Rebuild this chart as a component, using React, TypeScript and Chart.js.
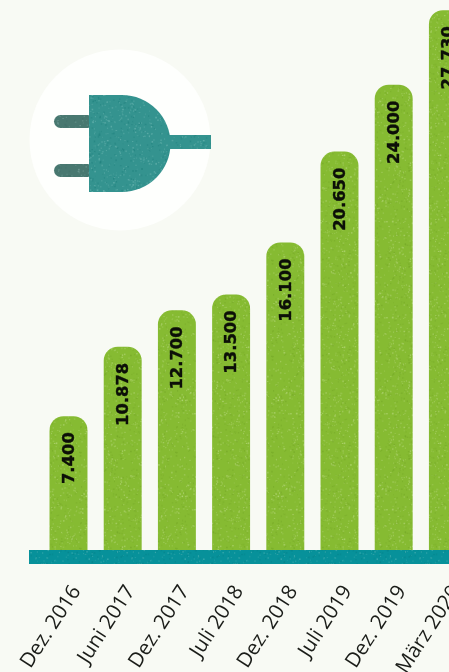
import React, { useEffect, useRef } from "react";
import { Chart, registerables } from "chart.js";

Chart.register(...registerables);

const categories = ["Dez. 2016", "Juni 2017", "Dez. 2017", "Juli 2018", "Dez. 2018", "Juli 2019", "Dez. 2019", "März 2020"];
const stations = [7400, 10878, 12700, 13500, 16100, 20650, 24000, 27730];
const valueLabels = ["7.400", "10.878", "12.700", "13.500", "16.100", "20.650", "24.000", "27.730"];

const BG = "#f8faf4";
const GREEN = "#86bb32";
const TEAL = "#07919a";
const FONT = '"Open Sans", "Noto Sans", sans-serif';
const VALUE_FONT = '"DejaVu Sans", sans-serif';

function speckle(base: string, light: string, dark: string, seed: number) {
  const c = document.createElement("canvas");
  c.width = c.height = 96;
  const g = c.getContext("2d")!;
  g.fillStyle = base;
  g.fillRect(0, 0, 96, 96);
  let s = seed;
  const next = () => (s = (s * 1664525 + 1013904223) >>> 0) / 4294967296;
  for (let i = 0; i < 700; i++) {
    g.fillStyle = next() < 0.6 ? light : dark;
    g.globalAlpha = 0.25 + next() * 0.4;
    g.fillRect(next() * 96, next() * 96, 0.8 + next(), 0.8 + next());
  }
  return g.createPattern(c, "repeat")!;
}

const decorPlugin = {
  id: "decor",
  beforeDraw(chart: any) {
    const { ctx, width, height } = chart;
    ctx.save();
    ctx.fillStyle = BG;
    ctx.fillRect(0, 0, width, height);
    ctx.fillStyle = "#fefffd";
    ctx.beginPath();
    ctx.arc(120, 140, 90.5, 0, Math.PI * 2);
    ctx.fill();
    // prongs
    ctx.fillStyle = speckle("#487870", "#7ba59f", "#3f6d67", 7);
    for (const y of [115, 164]) {
      ctx.beginPath();
      ctx.roundRect(54, y, 40, 13, 6.5);
      ctx.fill();
    }
    // plug body and cable
    ctx.fillStyle = speckle("#34938f", "#6fb8b3", "#1f807d", 11);
    ctx.fillRect(165, 135, 46, 14);
    ctx.beginPath();
    ctx.moveTo(89, 95);
    ctx.lineTo(122, 95);
    ctx.arc(122, 143.5, 48.5, -Math.PI / 2, Math.PI / 2);
    ctx.lineTo(89, 192);
    ctx.closePath();
    ctx.fill();
    ctx.restore();
  },
  afterDatasetsDraw(chart: any) {
    const { ctx, chartArea } = chart;
    ctx.save();
    // ground strip
    ctx.fillStyle = speckle(TEAL, "#4fb3b5", "#067e86", 23);
    ctx.fillRect(29, chartArea.bottom - 14, chart.width, 14);
    // value labels
    ctx.fillStyle = "#0c0f08";
    ctx.strokeStyle = "#0c0f08";
    ctx.lineWidth = 0.4;
    ctx.font = `700 16.4px ${VALUE_FONT}`;
    ctx.textAlign = "right";
    ctx.textBaseline = "middle";
    chart.getDatasetMeta(0).data.forEach((bar: any, i: number) => {
      ctx.save();
      ctx.translate(bar.x + 1, bar.y + 16);
      ctx.rotate(-Math.PI / 2);
      ctx.fillText(valueLabels[i], 0, 0);
      ctx.strokeText(valueLabels[i], 0, 0);
      ctx.restore();
    });
    ctx.restore();
  },
};

export default function App() {
  const ref = useRef<HTMLCanvasElement>(null);
  useEffect(() => {
    document.body.style.margin = "0";
    document.body.style.background = BG;
    const chart = new Chart(ref.current!, {
      type: "bar",
      data: {
        labels: categories,
        datasets: [
          {
            data: stations,
            backgroundColor: speckle(GREEN, "#b5d77a", "#76a828", 3),
            borderWidth: 0,
            borderSkipped: "bottom",
            borderRadius: { topLeft: 14, topRight: 14, bottomLeft: 0, bottomRight: 0 },
            barPercentage: 0.7,
            categoryPercentage: 1,
          },
        ],
      },
      options: {
        responsive: false,
        animation: false,
        devicePixelRatio: 1,
        layout: { padding: { left: 41.4, right: 0, top: 0, bottom: 0 } },
        plugins: { legend: { display: false }, tooltip: { enabled: false } },
        scales: {
          y: { display: false, min: 0, max: 28240 },
          x: {
            grid: { display: false },
            border: { display: false },
            afterFit(scale: any) {
              scale.height = 108;
              scale.paddingLeft = 0;
              scale.paddingRight = 0;
            },
            ticks: {
              autoSkip: false,
              minRotation: 57,
              maxRotation: 57,
              padding: 9,
              labelOffset: 8,
              color: "#1a1c18",
              font: { family: FONT, size: 20.5 },
            },
          },
        },
      },
      plugins: [decorPlugin],
    } as any);
    return () => chart.destroy();
  }, []);
  return (
    <div style={{ width: 449, height: 672, overflow: "hidden", position: "relative" }}>
      <canvas ref={ref} width={475} height={672} style={{ display: "block" }} />
    </div>
  );
}
